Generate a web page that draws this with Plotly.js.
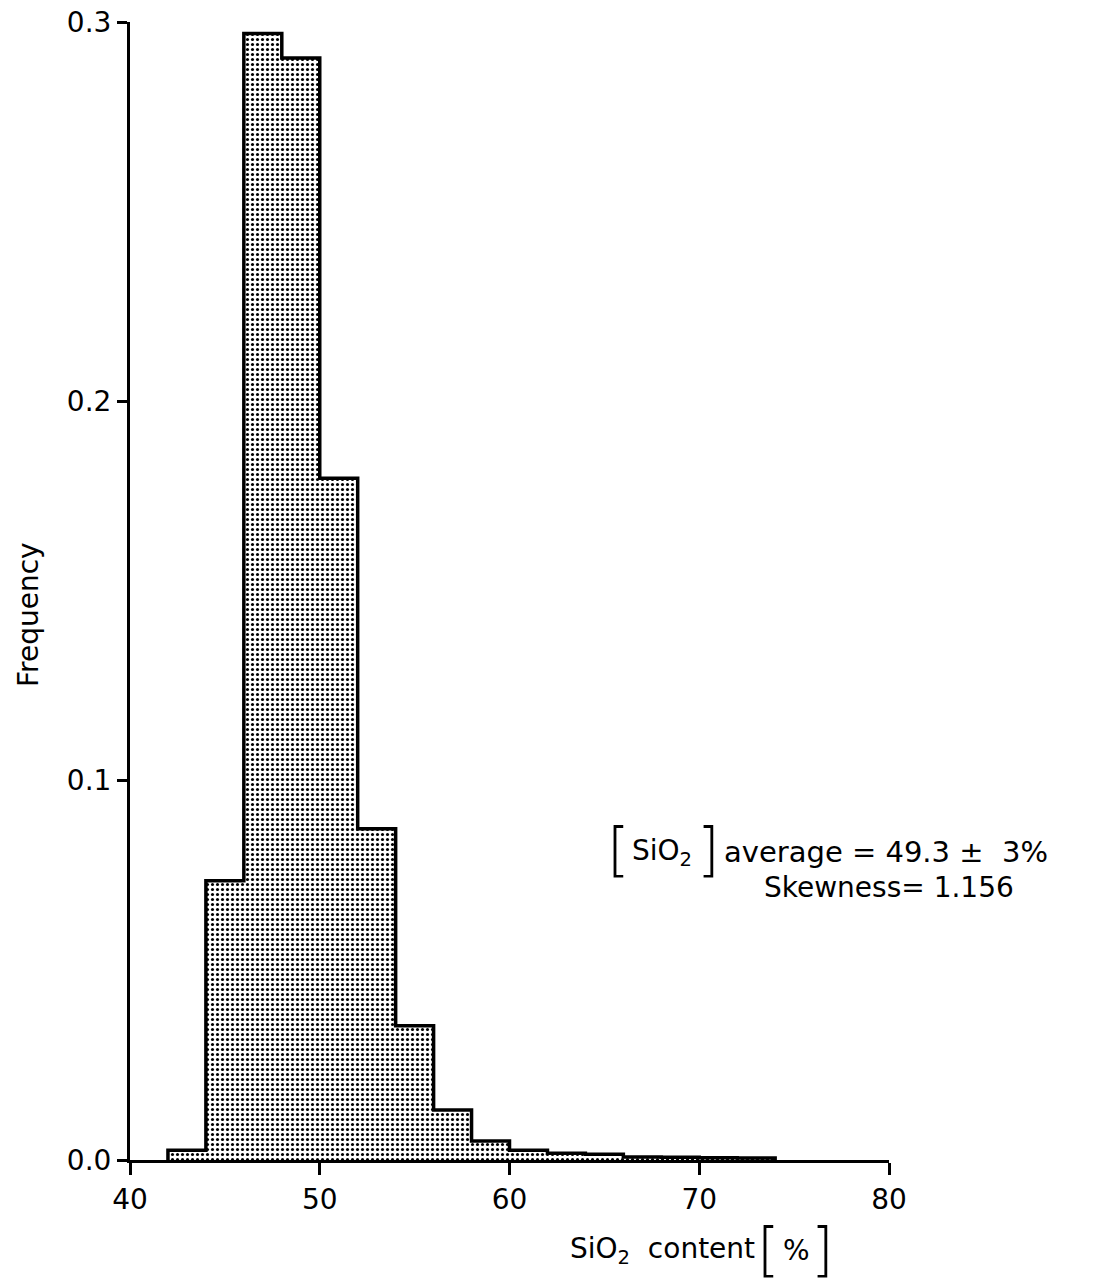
<!DOCTYPE html>
<html>
<head>
<meta charset="utf-8">
<script src="https://cdn.plot.ly/plotly-3.0.1.min.js"></script>
<style>html,body{margin:0;padding:0;background:#fff;}#chart{width:1108px;height:1284px;}</style>
</head>
<body>
<div id="chart"></div>
<script>
// SiO2 content bins (left edges, %), width 2
var binStart = [42, 44, 46, 48, 50, 52, 54, 56, 58, 60, 62, 64, 66, 68, 70, 72];
var binWidth = 2;
// Frequency per bin
var freq = [0.0026, 0.0736, 0.297, 0.2905, 0.1797, 0.0873, 0.0354, 0.0132, 0.0050, 0.0026, 0.0018, 0.0015, 0.0008, 0.0007, 0.0006, 0.0005];
var xTicks = [40, 50, 60, 70, 80];
var yTicks = [0, 0.1, 0.2, 0.3];
var yTickText = ['0.0', '0.1', '0.2', '0.3'];

var centers = binStart.map(function (s) { return s + binWidth / 2; });

// stepped outline built from the bins
var ox = [binStart[0]], oy = [0];
for (var i = 0; i < binStart.length; i++) {
  ox.push(binStart[i]); oy.push(freq[i]);
  ox.push(binStart[i] + binWidth); oy.push(freq[i]);
}
ox.push(binStart[binStart.length - 1] + binWidth); oy.push(0);

var FONT = '"DejaVu Sans", sans-serif';
var W = 1108, H = 1284, ML = 130, MR = 219, MT = 22, MB = 124;
function px(x) { return (x - ML) / (W - ML - MR); }
function py(y) { return (H - MB - y) / (H - MT - MB); }
function ann(text, x, y, size, xanchor, extra, weight) {
  var a = {xref: 'paper', yref: 'paper', x: px(x), y: py(y), text: text, showarrow: false,
    xanchor: xanchor || 'center', yanchor: 'middle',
    font: {family: FONT, size: size, color: '#000', weight: weight || 'normal'}};
  if (extra) for (var k in extra) a[k] = extra[k];
  return a;
}

var traces = [
  {
    type: 'bar', x: centers, y: freq, width: binWidth,
    marker: {
      color: '#ffffff',
      line: {width: 0},
      pattern: {shape: '.', fgcolor: '#000000', bgcolor: '#ffffff', size: 5, solidity: 0.3}
    },
    hoverinfo: 'x+y', showlegend: false
  },
  {
    type: 'scatter', mode: 'lines', x: ox, y: oy,
    line: {color: '#000', width: 3.5},
    hoverinfo: 'skip', showlegend: false
  }
];

var layout = {
  width: W, height: H,
  margin: {l: ML, r: MR, t: MT, b: MB},
  paper_bgcolor: '#fff', plot_bgcolor: '#fff',
  font: {family: FONT, color: '#000', size: 28},
  bargap: 0,
  showlegend: false,
  xaxis: {
    range: [40, 80], tickvals: xTicks, ticktext: xTicks.map(String),
    showline: true, linecolor: '#000', linewidth: 3,
    ticks: 'outside', ticklen: 12, tickwidth: 3, tickcolor: '#000',
    showgrid: false, zeroline: false,
    tickfont: {family: FONT, size: 28, color: '#000'}
  },
  yaxis: {
    range: [0, 0.3], tickvals: yTicks, ticktext: yTickText,
    showline: true, linecolor: '#000', linewidth: 3,
    ticks: 'outside', ticklen: 10, tickwidth: 3, tickcolor: '#000',
    showgrid: false, zeroline: false,
    tickfont: {family: FONT, size: 28, color: '#000'}
  },
  annotations: [
    ann('Frequency', 28, 615, 28, 'center', {textangle: -90}),
    ann('SiO<sub>2</sub>  content', 757, 1250, 28, 'right'),
    ann('[', 768, 1250, 58, 'center', null, 200),
    ann('%', 796, 1250, 28, 'center'),
    ann(']', 822, 1250, 58, 'center', null, 200),
    ann('[', 618, 850, 58, 'center', null, 200),
    ann('SiO<sub>2</sub>', 630, 852, 28, 'left'),
    ann(']', 708, 850, 58, 'center', null, 200),
    ann('average = 49.3 ±  3%', 722, 852, 29, 'left'),
    ann('Skewness= 1.156', 762, 887, 28, 'left')
  ]
};

Plotly.newPlot('chart', traces, layout, {displayModeBar: false, staticPlot: true});
</script>
</body>
</html>
